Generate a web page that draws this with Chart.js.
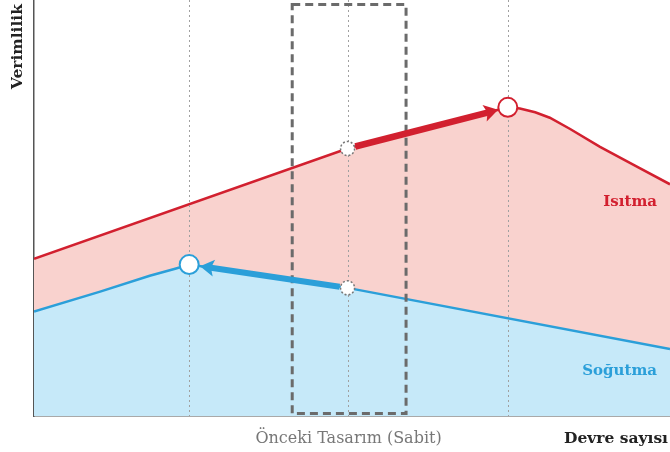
<!DOCTYPE html>
<html>
<head>
<meta charset="utf-8">
<script src="https://cdn.jsdelivr.net/npm/chart.js@4/dist/chart.umd.min.js"></script>
<style>
  html, body { margin: 0; padding: 0; background: #fff; }
  #wrap { width: 670px; height: 452px; position: relative; }
</style>
</head>
<body>
<div id="wrap"><canvas id="c" width="670" height="452"></canvas></div>
<script>
// ---- data (arbitrary units: x = devre sayısı, y = verimlilik) ----
const heatingX = [0, 49.3, 74.5, 76.4, 78.8, 81.1, 84.3, 89.0, 94.5, 100];
const heatingY = [37.8, 64.3, 74.2, 73.9, 73.0, 71.7, 69.0, 64.7, 60.2, 55.7];
const coolingX = [0, 10.4, 18.2, 22.2, 24.4, 49.3, 100];
const coolingY = [25.1, 29.9, 33.7, 35.4, 36.4, 30.8, 16.1];
const previousDesignX = 49.3;          // Önceki Tasarım (Sabit)
const previousBoxX = [40.6, 58.5];     // dashed box around previous design
const heatingOptimum = {x: 74.5, y: 74.2};
const coolingOptimum = {x: 24.4, y: 36.4};
const heatingPrev = {x: 49.3, y: 64.3};
const coolingPrev = {x: 49.3, y: 30.8};
const labels = {
  yTitle: 'Verimlilik',
  xTitle: 'Devre sayısı',
  prevTick: 'Önceki Tasarım (Sabit)',
  heating: 'Isıtma',
  cooling: 'Soğutma'
};

const RED = '#d2202f', BLUE = '#2b9fd9';
const RED_FILL = 'rgb(249,210,206)', BLUE_FILL = 'rgb(198,233,249)';

const toPts = (xs, ys) => xs.map((x, i) => ({x, y: ys[i]}));

function arrow(ctx, x1, y1, x2, y2, color, shaft, startOff, endOff) {
  const a = Math.atan2(y2 - y1, x2 - x1);
  const sx = x1 + Math.cos(a) * startOff, sy = y1 + Math.sin(a) * startOff;
  const tx = x2 - Math.cos(a) * endOff, ty = y2 - Math.sin(a) * endOff;
  const headLen = 14, headHalf = 8.5;
  const bx = tx - Math.cos(a) * headLen, by = ty - Math.sin(a) * headLen;
  ctx.save();
  ctx.strokeStyle = color; ctx.fillStyle = color;
  ctx.lineWidth = shaft; ctx.lineCap = 'butt';
  ctx.beginPath(); ctx.moveTo(sx, sy);
  ctx.lineTo(bx + Math.cos(a) * 3, by + Math.sin(a) * 3); ctx.stroke();
  ctx.beginPath();
  ctx.moveTo(tx, ty);
  ctx.lineTo(bx - Math.sin(a) * headHalf, by + Math.cos(a) * headHalf);
  ctx.lineTo(bx + Math.cos(a) * 3, by + Math.sin(a) * 3);
  ctx.lineTo(bx + Math.sin(a) * headHalf, by - Math.cos(a) * headHalf);
  ctx.closePath(); ctx.fill();
  ctx.restore();
}

const overlay = {
  id: 'overlay',
  afterDatasetsDraw(chart) {
    const ctx = chart.ctx, xs = chart.scales.x, ys = chart.scales.y;
    const area = chart.chartArea;
    const px = v => xs.getPixelForValue(v), py = v => ys.getPixelForValue(v);

    // dotted verticals
    ctx.save();
    ctx.strokeStyle = '#a0a0a0'; ctx.lineWidth = 1; ctx.setLineDash([2, 3]);
    [coolingOptimum.x, previousDesignX, heatingOptimum.x].forEach(v => {
      const x = Math.round(px(v)) + 0.5;
      ctx.beginPath(); ctx.moveTo(x, area.top); ctx.lineTo(x, area.bottom); ctx.stroke();
    });
    ctx.restore();

    // dashed box
    ctx.save();
    ctx.strokeStyle = '#6b6b6b'; ctx.lineWidth = 3; ctx.setLineDash([8, 5]);
    const l = px(previousBoxX[0]), r = px(previousBoxX[1]);
    ctx.strokeRect(l, area.top + 4.5, r - l, area.bottom - area.top - 7);
    ctx.restore();

    // arrows
    arrow(ctx, px(heatingPrev.x), py(heatingPrev.y), px(heatingOptimum.x), py(heatingOptimum.y), RED, 6.5, 8, 10);
    arrow(ctx, px(coolingPrev.x), py(coolingPrev.y), px(coolingOptimum.x), py(coolingOptimum.y), BLUE, 6, 8, 11);

    // previous-design markers (dashed)
    [heatingPrev, coolingPrev].forEach(p => {
      ctx.save();
      ctx.beginPath(); ctx.arc(px(p.x), py(p.y), 7, 0, Math.PI * 2);
      ctx.fillStyle = '#fff'; ctx.fill();
      ctx.setLineDash([2, 2]); ctx.lineWidth = 1.5; ctx.strokeStyle = '#777'; ctx.stroke();
      ctx.restore();
    });
    // optimum markers
    [[heatingOptimum, RED], [coolingOptimum, BLUE]].forEach(([p, c]) => {
      ctx.save();
      ctx.beginPath(); ctx.arc(px(p.x), py(p.y), 9.5, 0, Math.PI * 2);
      ctx.fillStyle = '#fff'; ctx.fill();
      ctx.lineWidth = 2; ctx.strokeStyle = c; ctx.stroke();
      ctx.restore();
    });

    // texts
    ctx.save();
    ctx.textBaseline = 'alphabetic';
    ctx.font = 'bold 15px "DejaVu Serif"';
    ctx.fillStyle = RED; ctx.textAlign = 'right';
    ctx.fillText(labels.heating, 657, 206);
    ctx.fillStyle = BLUE;
    ctx.fillText(labels.cooling, 657, 375);
    ctx.fillStyle = '#222';
    ctx.font = 'bold 15.5px "DejaVu Serif"';
    ctx.textAlign = 'right';
    ctx.fillText(labels.xTitle, 668, 443);
    ctx.fillStyle = '#777';
    ctx.font = '16px "DejaVu Serif"';
    ctx.textAlign = 'center';
    ctx.fillText(labels.prevTick, px(previousDesignX) + 1, 443);
    ctx.translate(22, 4);
    ctx.rotate(-Math.PI / 2);
    ctx.fillStyle = '#222';
    ctx.font = 'bold 15.5px "DejaVu Serif"';
    ctx.textAlign = 'right';
    ctx.fillText(labels.yTitle, 0, 0);
    ctx.restore();
  }
};

new Chart(document.getElementById('c'), {
  type: 'line',
  data: {
    datasets: [
      {
        label: labels.cooling,
        data: toPts(coolingX, coolingY),
        borderColor: BLUE, borderWidth: 2.5,
        backgroundColor: BLUE_FILL, fill: 'origin',
        pointRadius: 0, tension: 0
      },
      {
        label: labels.heating,
        data: toPts(heatingX, heatingY),
        borderColor: RED, borderWidth: 2.5,
        backgroundColor: RED_FILL, fill: 'origin',
        pointRadius: 0, tension: 0
      }
    ]
  },
  options: {
    responsive: false,
    animation: false,
    events: [],
    layout: { padding: { left: 34, right: 0, top: 0, bottom: 36 } },
    plugins: { legend: { display: false }, tooltip: { enabled: false } },
    scales: {
      x: {
        type: 'linear', min: 0, max: 100,
        ticks: { display: false },
        grid: { display: false, drawTicks: false },
        border: { display: true, color: '#555', width: 1.5 }
      },
      y: {
        type: 'linear', min: 0, max: 100,
        ticks: { display: false },
        grid: { display: false, drawTicks: false },
        border: { display: true, color: '#555', width: 1.5 }
      }
    }
  },
  plugins: [overlay]
});
</script>
</body>
</html>
